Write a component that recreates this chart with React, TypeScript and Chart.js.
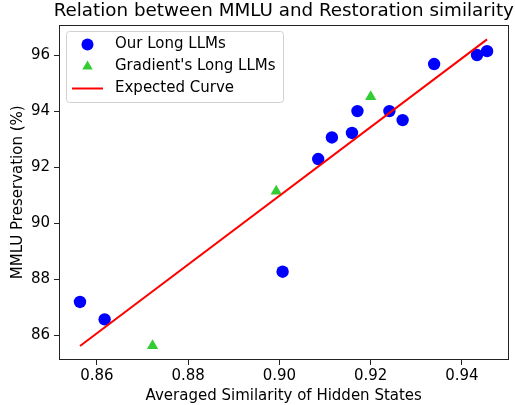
import React, { useEffect, useRef } from "react";
import { Chart, registerables } from "chart.js";

Chart.register(...registerables);

const ourX = [0.8563, 0.8617, 0.9007, 0.9085, 0.9115, 0.9159, 0.9171, 0.9241, 0.927, 0.9339, 0.9433, 0.9455];
const ourY = [87.19, 86.57, 88.27, 92.29, 93.06, 93.22, 94.0, 94.0, 93.68, 95.68, 96.0, 96.14];
const gradX = [0.8722, 0.8993, 0.92];
const gradY = [85.63, 91.14, 94.51];
const fitX = [0.8563, 0.9455];
const fitY = [85.62, 96.56];
const xTicks = [0.86, 0.88, 0.9, 0.92, 0.94];
const yTicks = [86, 88, 90, 92, 94, 96];
const legendLabels = ["Our Long LLMs", "Gradient's Long LLMs", "Expected Curve"];
const titleText = "Relation between MMLU and Restoration similarity";

const FONT = "'DejaVu Sans', sans-serif";

export default function App() {
  const ref = useRef<HTMLCanvasElement | null>(null);
  useEffect(() => {
    document.body.style.margin = "0";
    const canvas = ref.current;
    if (!canvas) return;
    const framePlugin = {
      id: "frameLegend",
      afterDraw(chart: any) {
        const { ctx, chartArea } = chart;
        ctx.save();
        ctx.strokeStyle = "#222";
        ctx.lineWidth = 1;
        const l = Math.round(chartArea.left) + 0.5;
        const t = Math.round(chartArea.top) + 0.5;
        const r = Math.round(chartArea.right) - 0.5;
        const b = Math.round(chartArea.bottom) - 0.5;
        ctx.strokeRect(l, t, r - l, b - t);
        // title
        ctx.fillStyle = "#000";
        ctx.font = `18.3px ${FONT}`;
        ctx.textAlign = "center";
        ctx.textBaseline = "middle";
        ctx.fillText(titleText, (chartArea.left + chartArea.right) / 2, 11.5);
        // legend
        const lx = 66.5, ly = 31.5, lw = 217, lh = 71;
        ctx.beginPath();
        const rad = 3;
        ctx.moveTo(lx + rad, ly);
        ctx.lineTo(lx + lw - rad, ly);
        ctx.quadraticCurveTo(lx + lw, ly, lx + lw, ly + rad);
        ctx.lineTo(lx + lw, ly + lh - rad);
        ctx.quadraticCurveTo(lx + lw, ly + lh, lx + lw - rad, ly + lh);
        ctx.lineTo(lx + rad, ly + lh);
        ctx.quadraticCurveTo(lx, ly + lh, lx, ly + lh - rad);
        ctx.lineTo(lx, ly + rad);
        ctx.quadraticCurveTo(lx, ly, lx + rad, ly);
        ctx.closePath();
        ctx.fillStyle = "rgba(255,255,255,0.8)";
        ctx.fill();
        ctx.strokeStyle = "#d0d0d0";
        ctx.stroke();
        const rows = [44.5, 66.5, 88.5];
        ctx.fillStyle = "#0000ff";
        ctx.beginPath();
        ctx.arc(87.5, rows[0], 6, 0, Math.PI * 2);
        ctx.fill();
        ctx.fillStyle = "#32cd32";
        ctx.beginPath();
        ctx.moveTo(87.5, rows[1] - 6);
        ctx.lineTo(92.7, rows[1] + 3);
        ctx.lineTo(82.3, rows[1] + 3);
        ctx.closePath();
        ctx.fill();
        ctx.strokeStyle = "#ff0000";
        ctx.lineWidth = 2;
        ctx.beginPath();
        ctx.moveTo(72, rows[2]);
        ctx.lineTo(103, rows[2]);
        ctx.stroke();
        ctx.fillStyle = "#000";
        ctx.font = `15px ${FONT}`;
        ctx.textBaseline = "middle";
        ctx.textAlign = "left";
        legendLabels.forEach((s, i) => ctx.fillText(s, 115, rows[i]));
        ctx.restore();
      },
    };
    const chart = new Chart(canvas, {
      type: "scatter",
      data: {
        datasets: [
          {
            label: legendLabels[2],
            data: fitX.map((x, i) => ({ x, y: fitY[i] })),
            showLine: true,
            borderColor: "#ff0000",
            borderWidth: 2,
            pointRadius: 0,
            order: 0,
          },
          {
            label: legendLabels[0],
            data: ourX.map((x, i) => ({ x, y: ourY[i] })),
            backgroundColor: "#0000ff",
            borderWidth: 0,
            pointRadius: 6.2,
            pointStyle: "circle",
            order: 1,
          },
          {
            label: legendLabels[1],
            data: gradX.map((x, i) => ({ x, y: gradY[i] })),
            backgroundColor: "#32cd32",
            borderWidth: 0,
            pointRadius: 6.5,
            pointStyle: "triangle",
            order: 2,
          },
        ] as any,
      },
      options: {
        animation: false,
        responsive: false,
        layout: { padding: { left: 0, right: 5, top: 24.5, bottom: 0 } },
        plugins: {
          legend: { display: false },
          tooltip: { enabled: false },
          title: { display: false },
        },
        scales: {
          x: {
            type: "linear",
            min: 0.8517,
            max: 0.9502,
            afterBuildTicks: (s: any) => {
              s.ticks = xTicks.map((v) => ({ value: v }));
            },
            afterFit: (s: any) => {
              s.height = 45;
            },
            ticks: {
              color: "#000",
              font: { family: FONT, size: 15 },
              padding: 2,
              callback: (v: any) => Number(v).toFixed(2),
            },
            grid: { drawOnChartArea: false, drawTicks: true, tickLength: 5, color: "#222" },
            border: { display: false },
            title: {
              display: true,
              text: "Averaged Similarity of Hidden States",
              color: "#000",
              font: { family: FONT, size: 15, lineHeight: 1.2 },
              padding: { top: 0, bottom: 0 },
            },
          },
          y: {
            type: "linear",
            min: 85.12,
            max: 97.09,
            afterBuildTicks: (s: any) => {
              s.ticks = yTicks.map((v) => ({ value: v }));
            },
            afterFit: (s: any) => {
              s.width = 59;
            },
            ticks: {
              color: "#000",
              font: { family: FONT, size: 15 },
              padding: 4,
              callback: (v: any) => String(v),
            },
            grid: { drawOnChartArea: false, drawTicks: true, tickLength: 5, color: "#222" },
            border: { display: false },
            title: {
              display: true,
              text: "MMLU Preservation (%)",
              color: "#000",
              font: { family: FONT, size: 15, lineHeight: 1.2 },
              padding: { top: 9, bottom: 0 },
            },
          },
        },
      } as any,
      plugins: [framePlugin],
    });
    return () => chart.destroy();
  }, []);
  return <canvas ref={ref} width={515} height={405} style={{ display: "block" }} />;
}
